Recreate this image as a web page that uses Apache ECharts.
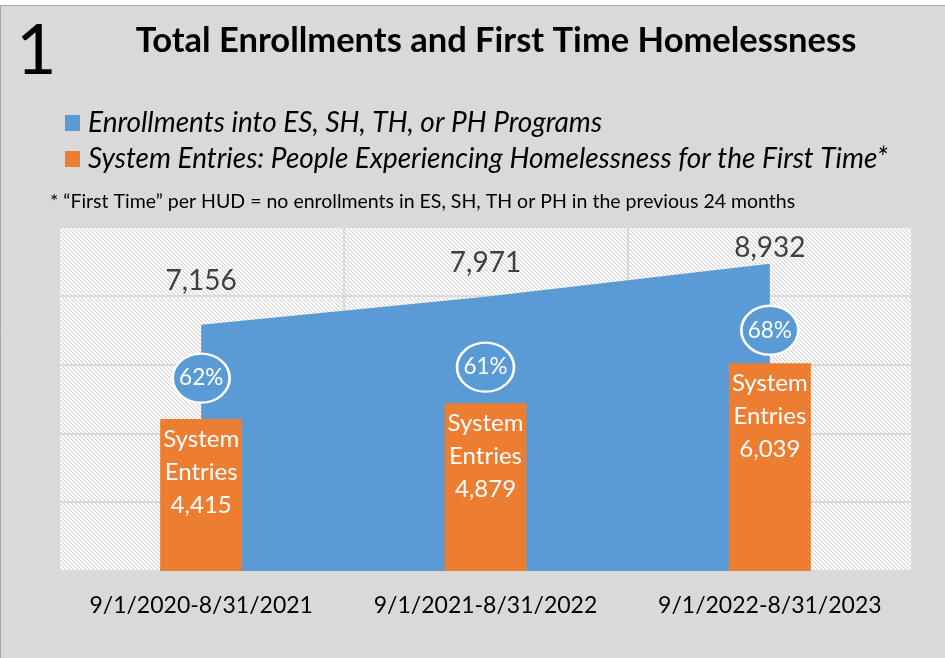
<!DOCTYPE html>
<html>
<head>
<meta charset="utf-8">
<script src="https://cdn.jsdelivr.net/npm/echarts@6/dist/echarts.min.js"></script>
<style>
html,body{margin:0;padding:0;background:#fff;}
#chart{width:945px;height:658px;}
</style>
</head>
<body>
<div id="chart"></div>
<script>
// ---- data ----
const categories = ['9/1/2020-8/31/2021', '9/1/2021-8/31/2022', '9/1/2022-8/31/2023'];
const enrollments = [7156, 7971, 8932];
const firstTimeEntries = [4415, 4879, 6039];
const firstTimePct = [62, 61, 68];
const seriesNames = ['Enrollments into ES, SH, TH, or PH Programs',
  'System Entries: People Experiencing Homelessness for the First Time*'];
const chartNumber = '1';
const chartTitle = 'Total Enrollments and First Time Homelessness';
const footnote = '* \u201cFirst Time\u201d per HUD = no enrollments in ES, SH, TH or PH in the previous 24 months';

// ---- styles ----
const enrollLabelLift = [29, 19, 1];
const pctLift = [41, 36, 33];
const BLUE = '#5b9bd5', ORANGE = '#ed7d31';
const FONT = 'Lato, "Noto Sans", sans-serif';

const fmt = v => v.toLocaleString('en-US');

// hatch pattern
const pc = document.createElement('canvas');
pc.width = 4; pc.height = 4;
const px = pc.getContext('2d');
px.fillStyle = '#ffffff'; px.fillRect(0, 0, 4, 4);
for (let i = 0; i < 4; i++) {
  px.fillStyle = '#d4d4d4'; px.fillRect(i, i, 1, 1);
  px.fillStyle = '#ececec'; px.fillRect((i + 1) % 4, i, 1, 1);
}

const chart = echarts.init(document.getElementById('chart'), null, {renderer: 'canvas'});
chart.setOption({
  animation: false,
  backgroundColor: '#d9d9d9',
  textStyle: {fontFamily: FONT},
  graphic: [
    {type: 'rect', shape: {x: 0, y: 0, width: 945, height: 5}, style: {fill: '#ffffff'}, silent: true},
    {type: 'line', shape: {x1: 0, y1: 5.5, x2: 945, y2: 5.5}, style: {stroke: '#a6a6a6', lineWidth: 1}, silent: true},
    {type: 'line', shape: {x1: 0.5, y1: 5, x2: 0.5, y2: 658}, style: {stroke: '#a6a6a6', lineWidth: 1}, silent: true},
    {type: 'text', left: 16, top: 16, style: {text: chartNumber, font: '70px ' + FONT, fill: '#000'}},
    {type: 'text', x: 496, y: 41, style: {text: chartTitle, font: 'bold 34.5px ' + FONT, fill: '#000', textAlign: 'center', textVerticalAlign: 'middle'}},
    {type: 'text', x: 50, y: 202, style: {text: footnote, font: '19.5px ' + FONT, fill: '#000', textVerticalAlign: 'middle'}}
  ],
  legend: {
    data: seriesNames,
    orient: 'vertical',
    left: 60, top: 101,
    icon: 'rect',
    itemWidth: 15, itemHeight: 16,
    itemGap: 2,
    textStyle: {fontSize: 28, fontStyle: 'italic', color: '#000', lineHeight: 34, padding: [0, 0, 0, 3]}
  },
  grid: {
    left: 59, right: 33, top: 227, bottom: 87,
    show: true, borderWidth: 0,
    backgroundColor: {image: pc, repeat: 'repeat'}
  },
  xAxis: {
    type: 'category',
    data: categories,
    boundaryGap: true,
    axisLine: {show: false},
    axisTick: {show: false},
    axisLabel: {fontSize: 23, color: '#000', margin: 23, interval: 0, hideOverlap: false},
    splitLine: {show: true, interval: 0, lineStyle: {color: '#d9d9d9', width: 2}}
  },
  yAxis: {
    type: 'value', min: 0, max: 10000, interval: 2000,
    axisLabel: {show: false},
    axisLine: {show: false},
    axisTick: {show: false},
    splitLine: {lineStyle: {color: '#d9d9d9', width: 2}}
  },
  series: [
    {
      name: seriesNames[0],
      type: 'line',
      z: 1,
      data: enrollments.map((v, i) => ({value: v, label: {offset: [0, -enrollLabelLift[i]]}})),
      symbol: 'circle',
      symbolSize: 0,
      showSymbol: true,
      itemStyle: {color: BLUE},
      lineStyle: {width: 0, color: BLUE},
      areaStyle: {color: BLUE, opacity: 1},
      label: {show: true, position: 'top', distance: 0, fontSize: 28, color: '#404040', lineHeight: 30,
        formatter: p => fmt(p.value)}
    },
    {
      name: seriesNames[1],
      type: 'bar',
      z: 2,
      data: firstTimeEntries,
      barWidth: 82,
      itemStyle: {color: ORANGE},
      label: {show: true, position: 'insideTop', distance: 4, fontSize: 24, lineHeight: 33, color: '#fff',
        formatter: p => 'System\nEntries\n' + fmt(p.value)}
    },
    {
      name: 'pct',
      type: 'scatter',
      z: 3,
      data: firstTimeEntries.map((v, i) => ({value: v, symbolOffset: [0, -pctLift[i]]})),
      symbol: 'circle',
      symbolSize: [57, 49],
      itemStyle: {color: BLUE, borderColor: '#fff', borderWidth: 2.5, opacity: 1},
      label: {show: true, position: 'inside', fontSize: 22.5, color: '#fff',
        formatter: p => firstTimePct[p.dataIndex] + '%'}
    }
  ]
});
</script>
</body>
</html>
